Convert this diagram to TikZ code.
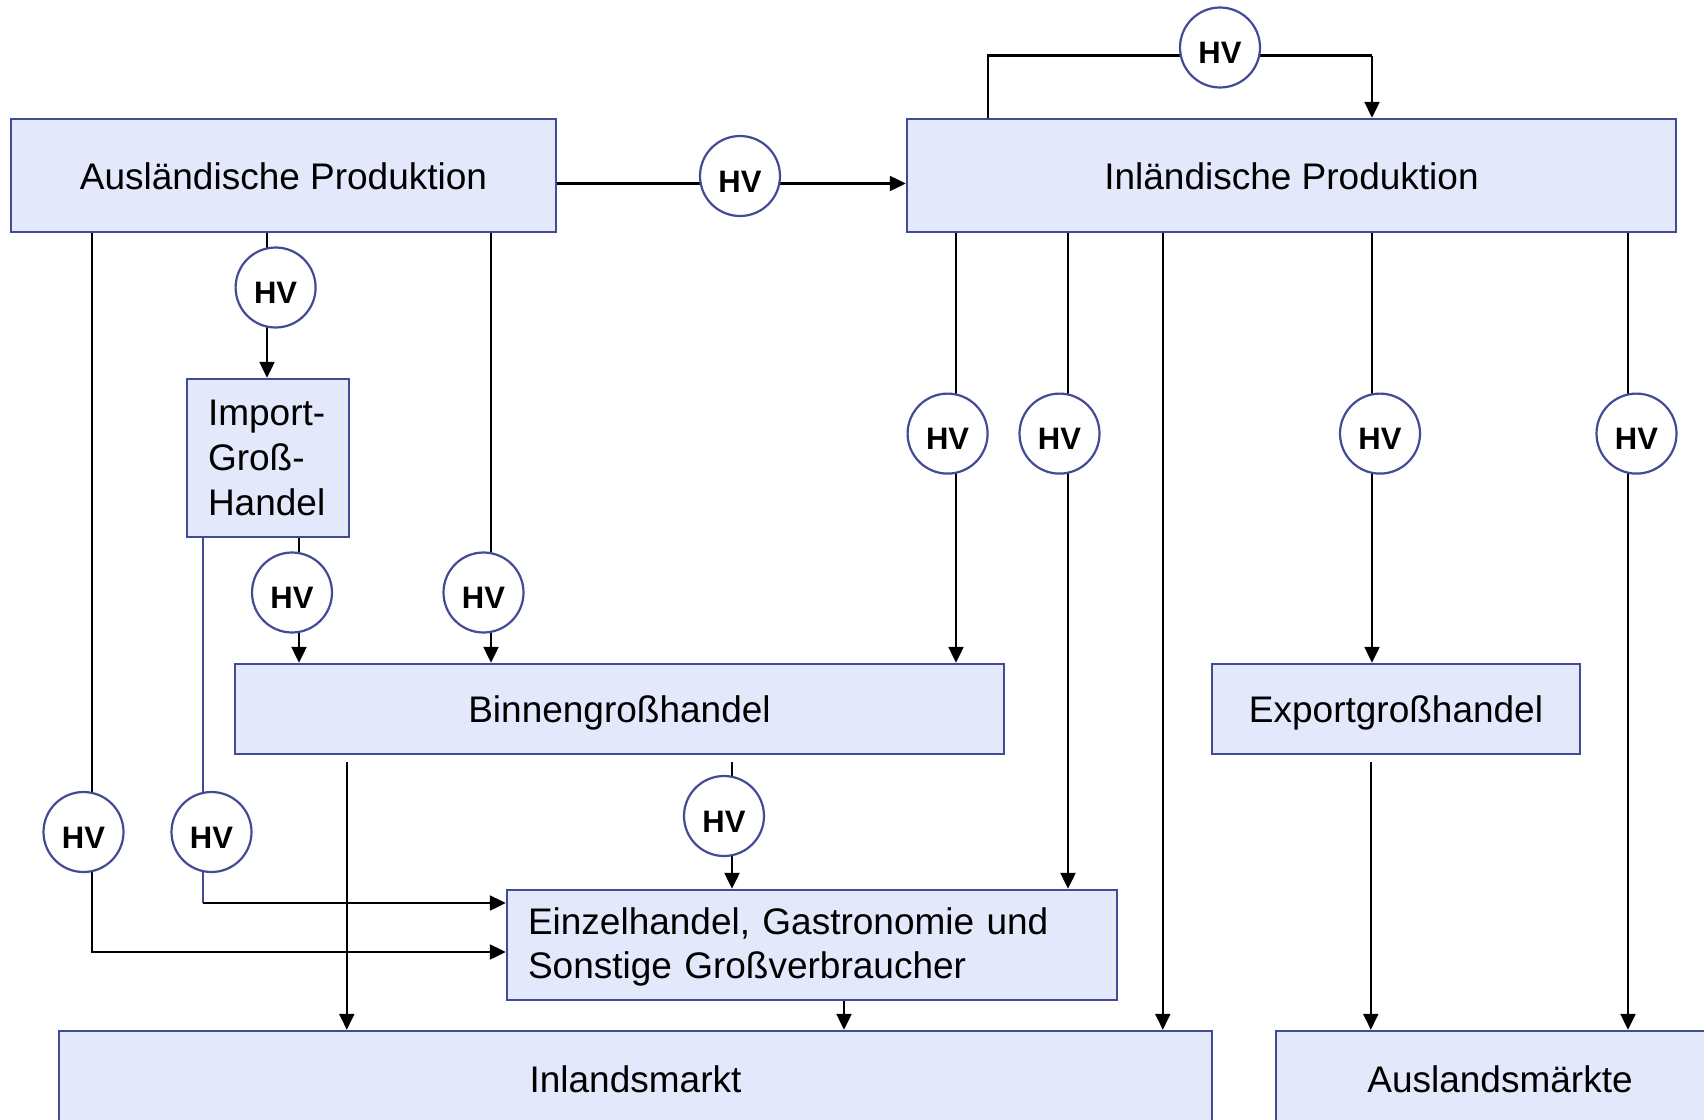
\documentclass[tikz,border=0pt]{standalone}
\usepackage{fontspec}
\setmainfont{Liberation Sans}
\usetikzlibrary{calc,arrows.meta,backgrounds}
\definecolor{boxfill}{RGB}{227,232,251}
\definecolor{boxline}{RGB}{68,75,150}
\begin{document}
\begin{tikzpicture}[x=1pt,y=-1pt,
  box/.style={draw=boxline,fill=boxfill,line width=2.4pt,inner sep=0pt,font=\fontsize{37}{44.6}\selectfont},
  onebox/.style={box,text height=35.6pt,text depth=8pt},
  hv/.style={circle,draw=boxline,fill=white,line width=2.2pt,minimum size=80pt,inner sep=0pt,
    font=\fontsize{31}{34}\selectfont\bfseries,text height=32.2pt,text depth=0pt},
  con/.style={line width=2.2pt,black},
  arr/.style={con,-{Triangle[length=16pt,width=15pt]}},
  blueline/.style={line width=2.2pt,boxline}]
\useasboundingbox (0,0) rectangle (1704,1119);
\clip (0,0) rectangle (1704,1119);
% boxes
\node[onebox,minimum width=545pt,minimum height=113pt] (ausl) at (283.5,175.5) {Ausländische Produktion};
\node[onebox,minimum width=769pt,minimum height=113pt] (inl) at (1291.5,175.5) {Inländische Produktion};
\node[box,minimum width=162pt,minimum height=158pt,text width=120pt,inner xsep=21pt,align=left] (imp) at (268,458) {Import-\\Groß-\\Handel};
\node[onebox,minimum width=769pt,minimum height=90pt] (binnen) at (619.5,709) {Binnengroßhandel};
\node[onebox,minimum width=368pt,minimum height=90pt] (export) at (1396,709) {Exportgroßhandel};
\node[box,minimum width=610pt,minimum height=110pt,text width=568pt,inner xsep=21pt,align=left,
  text height=27pt,text depth=49pt] (einzel) at (812,945) {Einzelhandel, Gastronomie und\\Sonstige Großverbraucher};
\node[box,minimum width=1153pt,minimum height=96pt] (inland) at (635.5,1079) {Inlandsmarkt};
\node[box,minimum width=448pt,minimum height=96pt] (ausm) at (1500,1079) {Auslandsmärkte};
% HV circles
\node[hv] (hvTop) at (1220,47.5) {HV};
\node[hv] (hvMid) at (740,176) {HV};
\node[hv] (hvA) at (275.6,287.5) {HV};
\node[hv] (hvImp) at (292,592.5) {HV};
\node[hv] (hvAR) at (483.5,592.5) {HV};
\node[hv] (hvI1) at (947.6,433.6) {HV};
\node[hv] (hvI2) at (1059.5,433.6) {HV};
\node[hv] (hvI3) at (1380,433.6) {HV};
\node[hv] (hvI4) at (1636.5,433.6) {HV};
\node[hv] (hvL1) at (83.5,832) {HV};
\node[hv] (hvL2) at (211.5,832) {HV};
\node[hv] (hvB) at (724,816) {HV};
% line positions
\coordinate (tL) at ($(hvTop.center)+(-232,8)$);
\coordinate (tR) at ($(hvTop.center)+(152,8)$);
\coordinate (mY) at ($(hvMid.center)+(0,7.5)$);
\coordinate (cA) at ($(hvA.center)+(-8.6,0)$);
\coordinate (cImp) at ($(hvImp.center)+(7,0)$);
\coordinate (cAR) at ($(hvAR.center)+(7.5,0)$);
\coordinate (e1) at ($(einzel.west)+(0,-42)$);
\coordinate (e2) at ($(einzel.west)+(0,7)$);
\coordinate (cL1) at ($(hvL1.center)+(8.5,0)$);
\coordinate (cL2) at ($(hvL2.center)+(-8.5,0)$);
\coordinate (bA) at ($(binnen.south west)+(113,7)$);
\coordinate (cB) at ($(hvB.center)+(8,0)$);
\coordinate (eS) at ($(einzel.south)+(32,0)$);
\coordinate (cI1) at ($(hvI1.center)+(8.4,0)$);
\coordinate (cI2) at ($(hvI2.center)+(8.5,0)$);
\coordinate (cI0) at ($(inl.south west)+(257,0)$);
\coordinate (cI3) at ($(hvI3.center)+(-8,0)$);
\coordinate (cI4) at ($(hvI4.center)+(-8.5,0)$);
\coordinate (xS) at ($(export.south west)+(160,7)$);
\begin{pgfonlayer}{background}
\draw[con] (tL |- inl.north) -- (tL) -- (tR);
\draw[arr] (tR) -- (tR |- inl.north);
\draw[arr] (ausl.east |- mY) -- (inl.west |- mY);
\draw[arr] (cA |- ausl.south) -- (cA |- imp.north);
\draw[arr] (cImp |- imp.south) -- (cImp |- binnen.north);
\draw[arr] (cAR |- ausl.south) -- (cAR |- binnen.north);
\draw[arr] (cL1 |- ausl.south) |- (e2);
\draw[blueline] (cL2 |- imp.south) -- (cL2 |- e1);
\draw[arr] (cL2 |- e1) -- (e1);
\draw[arr] (bA) -- (bA |- inland.north);
\draw[arr] (cB |- bA) -- (cB |- einzel.north);
\draw[arr] (eS) -- (eS |- inland.north);
\draw[arr] (cI1 |- inl.south) -- (cI1 |- binnen.north);
\draw[arr] (cI2 |- inl.south) -- (cI2 |- einzel.north);
\draw[arr] (cI0) -- (cI0 |- inland.north);
\draw[arr] (cI3 |- inl.south) -- (cI3 |- export.north);
\draw[arr] (cI4 |- inl.south) -- (cI4 |- ausm.north);
\draw[arr] (xS) -- (xS |- ausm.north);
\end{pgfonlayer}
\end{tikzpicture}
\end{document}
